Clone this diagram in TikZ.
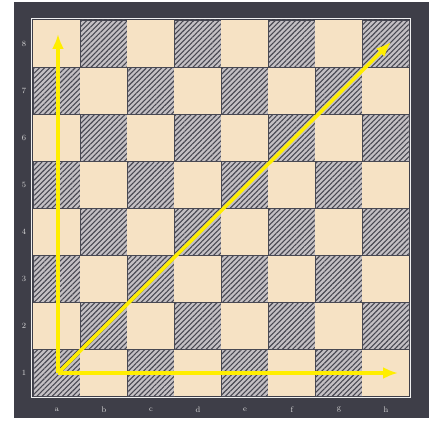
\documentclass[tikz,border=0pt]{standalone}
\usetikzlibrary{arrows.meta, patterns.meta}
\definecolor{boardframe}{RGB}{62,62,72}
\definecolor{lightsq}{RGB}{246,226,196}
\definecolor{darksq}{RGB}{196,192,196}
\definecolor{hatchgray}{RGB}{72,72,82}
\definecolor{arrowyellow}{RGB}{255,238,0}
\tikzset{
  lsq/.style={fill=lightsq},
  dsq/.style={
    fill=darksq, draw=hatchgray, line width=0.7pt,
    postaction={pattern={Lines[angle=45, distance=3.6pt, line width=1.1pt]},
      pattern color=hatchgray}
  },
  coordlbl/.style={font=\footnotesize, text=gray!30, inner sep=0pt},
  yarr/.style={-{Latex[length=15pt,width=12pt]}, line width=3.5pt, color=arrowyellow},
}

\begin{document}
\begin{tikzpicture}[x=1pt, y=1pt]
        \useasboundingbox (0,0) rectangle (435,423);
        \fill[boardframe] (14,5) rectangle (429,421);
        % squares, a1 dark
        \foreach \c in {0,...,7}{
          \foreach \r in {0,...,7}{
            \pgfmathtruncatemacro\sqpar{mod(\c+\r,2)}
            \ifnum\sqpar=0
              \path[dsq] ({33+47*\c},{27+47*\r}) rectangle ++(47,47);
            \else
              \path[lsq] ({33+47*\c},{27+47*\r}) rectangle ++(47,47);
            \fi
          }
        }
        \draw[white!88!gray, line width=1.5pt] (31.5,25.5) rectangle (410.5,404.5);
        % coordinates on the frame
        \foreach \n in {1,...,8}
          \node[coordlbl] (rank\n) at (24,{3.5+47*\n}) {\n};
        \foreach \f [count=\i from 0] in {a,b,c,d,e,f,g,h}
          \node[coordlbl] (file\f) at ({57+47*\i},13) {\f};
        % arrows from a1
        \coordinate (start) at (58,50);
        \coordinate (tipup) at (58,389);
        \coordinate (tipright) at (398,50);
        \coordinate (tipdiag) at (391,381);
        \draw[yarr] (start) -- (tipup);
        \draw[yarr] (start) -- (tipright);
        \draw[yarr] (start) -- (tipdiag);
      \end{tikzpicture}
\end{document}
